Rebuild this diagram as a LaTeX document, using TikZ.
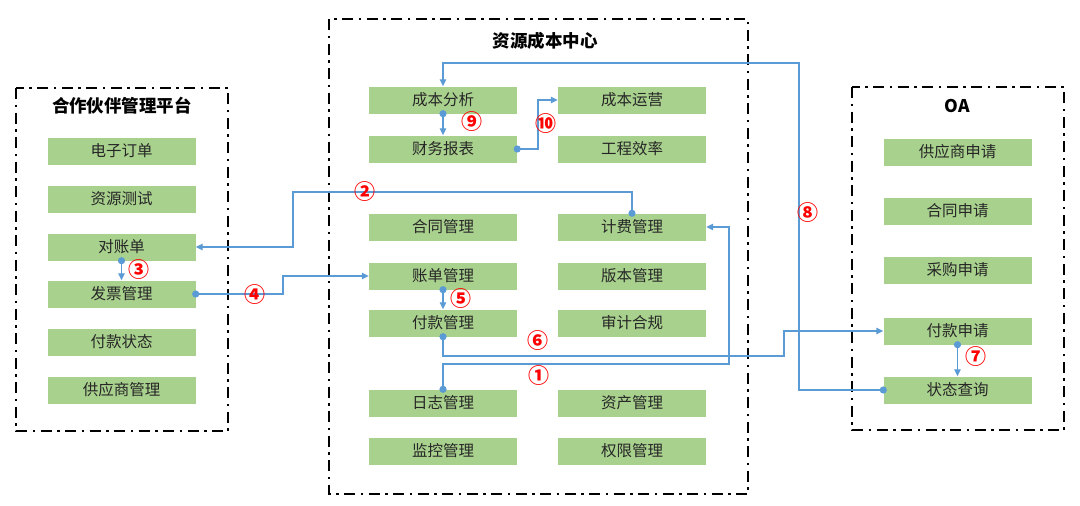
\documentclass[tikz,border=0pt]{standalone}
\usepackage{fontspec}
\newfontfamily\cjk{Noto Sans CJK SC}
\usetikzlibrary{arrows.meta}
\definecolor{boxgreen}{HTML}{A9D18E}
\definecolor{lineblue}{HTML}{5B9BD5}
\definecolor{numred}{HTML}{FF0000}
\begin{document}
\begin{tikzpicture}[x=1pt,y=-1pt,
 item/.style={fill=boxgreen, draw=none, minimum width=148pt, minimum height=27pt, inner sep=0pt, font=\cjk\fontsize{15.5}{16}\selectfont, text=black!85},
 group/.style={draw=black, line width=2.8pt, dash pattern=on 11pt off 5.5pt on 2.5pt off 5.5pt},
 title/.style={font=\cjk\bfseries\fontsize{17.5}{18}\selectfont, inner sep=0pt},
 link/.style={draw=lineblue, line width=1.2pt, -{Triangle[length=7pt,width=6.5pt]}},
 num/.style={text=numred, font=\cjk\bfseries\fontsize{21}{21}\selectfont, inner sep=0pt}
]
\useasboundingbox (0,0) rectangle (1080,506);
% containers
\draw[group] (16,88) rectangle (228,431);
\draw[group] (329,19) rectangle (748,494);
\draw[group] (852,87) rectangle (1064,430);
\node[title] (t1) at (122,106) {合作伙伴管理平台};
\node[title] (t2) at (545,41) {资源成本中心};
\node[title] (t3) at (957,106) {OA};
% left
\node[item] (dzdd) at (121.5,151) {电子订单};
\node[item] (zycs) at (121.5,199) {资源测试};
\node[item] (dzd)  at (121.5,247) {对账单};
\node[item] (fpgl) at (121.5,294) {发票管理};
\node[item] (fkzt) at (121.5,342) {付款状态};
\node[item] (gysgl) at (121.5,390) {供应商管理};
% center left column
\node[item] (cbfx) at (443,100) {成本分析};
\node[item] (cwbb) at (443,149) {财务报表};
\node[item] (htgl) at (443,227) {合同管理};
\node[item] (zdgl) at (443,276) {账单管理};
\node[item] (fkgl) at (443,323) {付款管理};
\node[item] (rzgl) at (443,403) {日志管理};
\node[item] (jkgl) at (443,451) {监控管理};
% center right column
\node[item] (cbyy) at (632,100) {成本运营};
\node[item] (gcxl) at (632,149) {工程效率};
\node[item] (jfgl) at (632,227) {计费管理};
\node[item] (bbgl) at (632,276) {版本管理};
\node[item] (sjhg) at (632,323) {审计合规};
\node[item] (zcgl) at (632,403) {资产管理};
\node[item] (qxgl) at (632,451) {权限管理};
% OA
\node[item] (gyssq) at (957.5,152) {供应商申请};
\node[item] (htsq) at (957.5,211) {合同申请};
\node[item] (cgsq) at (957.5,270) {采购申请};
\node[item] (fksq) at (957.5,331) {付款申请};
\node[item] (ztcx) at (957.5,390) {状态查询};
% connectors
\draw[link] (rzgl.north) -- (443,364) -- (729,364) -- (729,227) -- (jfgl.east);
\draw[link] (jfgl.north) -- (632,192) -- (293,192) -- (293,247) -- (dzd.east);
\draw[link] (dzd.south) -- (fpgl.north);
\draw[link] (fpgl.east) -- (283,294) -- (283,276) -- (zdgl.west);
\draw[link] (zdgl.south) -- (fkgl.north);
\draw[link] (fkgl.south) -- (443,356) -- (784,356) -- (784,331) -- (fksq.west);
\draw[link] (fksq.south) -- (ztcx.north);
\draw[link] (ztcx.west) -- (799,390) -- (799,63) -- (443,63) -- (cbfx.north);
\draw[link] (cbfx.south) -- (cwbb.north);
\draw[link] (cwbb.east) -- (538,149) -- (538,100) -- (cbyy.west);
% dots
\foreach \p in {rzgl.north, jfgl.north, dzd.south, fpgl.east, zdgl.south, fkgl.south, fksq.south, ztcx.west, cbfx.south, cwbb.east}
  \fill[lineblue] (\p) circle (3.6pt);
% labels
\node[num] (n1) at (539,376) {①};
\node[num] (n2) at (365,192) {②};
\node[num] (n3) at (139,270) {③};
\node[num] (n4) at (255,295) {④};
\node[num] (n5) at (461,299) {⑤};
\node[num] (n6) at (538,341) {⑥};
\node[num] (n7) at (976,357) {⑦};
\node[num] (n8) at (808,213) {⑧};
\node[num] (n9) at (472,122) {⑨};
\node[num] (n10) at (546,124) {⑩};
\end{tikzpicture}
\end{document}
